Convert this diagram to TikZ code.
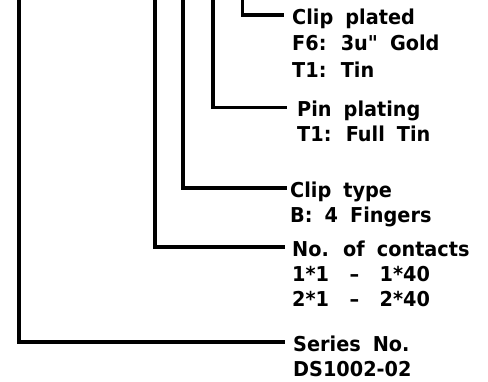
\documentclass[tikz,border=0pt]{standalone}
\usepackage{fontspec}
\usetikzlibrary{positioning}
\newfontfamily\cadfont[WordSpace=1.8,FakeStretch=0.94]{DejaVu Sans}
\newcommand{\cadsize}{\fontsize{20.5}{25}\selectfont}

\begin{document}
\begin{tikzpicture}[x=1pt,y=1pt,
  lead/.style={line width=3.2pt,line join=miter},
  head/.style={font=\cadfont\bfseries\cadsize,inner sep=0pt,anchor=west,text height=19pt,text depth=0pt},
  info/.style={font=\cadfont\bfseries\cadsize,inner sep=0pt,align=left}]
\useasboundingbox (0,0) rectangle (488,382);
\coordinate (vSeries) at (19,382);
\coordinate (vContacts) at (155,382);
\coordinate (vType) at (183,382);
\coordinate (vPin) at (213,382);
\coordinate (vClip) at (242.5,382);
\node[head] (clip) at (292,367) {Clip plated};
\node[info,below=10pt of clip.south west,anchor=north west] (clipopt) {F6: 3u" Gold\\[2pt]T1: Tin};
\node[head] (pin) at (297,274.5) {Pin plating};
\node[info,below=9pt of pin.south west,anchor=north west] (pinopt) {T1: Full Tin};
\node[head] (type) at (290,194) {Clip type};
\node[info,below=9pt of type.south west,anchor=north west] (typeopt) {B: 4 Fingers};
\node[head] (contacts) at (292,135) {No. of contacts};
\node[info,below=9pt of contacts.south west,anchor=north west] (contactsopt) {1*1\quad–\quad1*40\\2*1\quad–\quad2*40};
\node[head] (series) at (293,40) {Series No.};
\node[info,below=9pt of series.south west,anchor=north west] (seriesopt) {DS1002-02};
\draw[lead] (vClip) |- ([xshift=-8pt]clip.west);
\draw[lead] (vPin) |- ([xshift=-10pt]pin.west);
\draw[lead] (vType) |- ([xshift=-3pt]type.west);
\draw[lead] (vContacts) |- ([xshift=-7pt]contacts.west);
\draw[lead] (vSeries) |- ([xshift=-8pt]series.west);
\end{tikzpicture}
\end{document}
